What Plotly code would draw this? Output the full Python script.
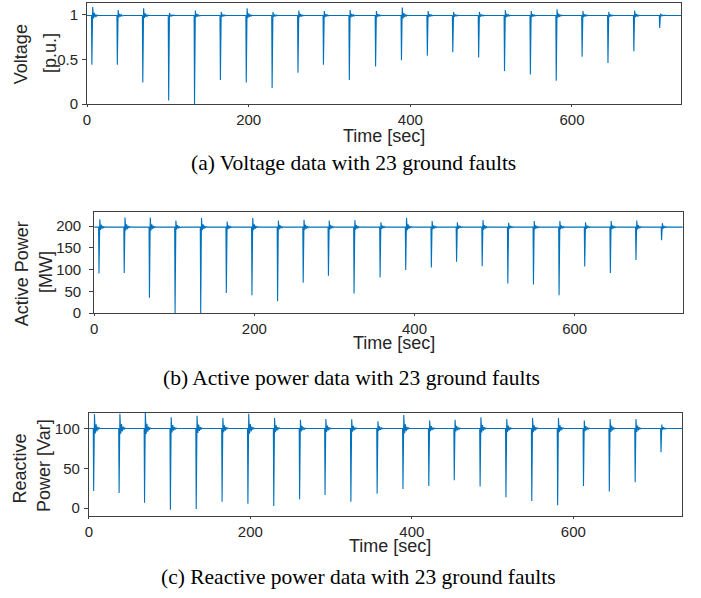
import plotly.graph_objects as go

# ---- data ----
fault_t = [6, 37.5, 69, 101, 133, 165, 197, 229, 261, 292.5, 324.5, 357, 389,
           421, 452.5, 484.5, 516.5, 548.5, 580.5, 612.5, 644.5, 676.5, 708.5]
t_end = 735

v_base = 0.99
v_min = [0.44, 0.44, 0.24, 0.04, 0.0, 0.27, 0.24, 0.18, 0.35, 0.44, 0.27, 0.42,
         0.49, 0.54, 0.58, 0.52, 0.37, 0.33, 0.26, 0.53, 0.46, 0.59, 0.85]
v_peak = [1.085, 1.05, 1.07, 1.02, 1.045, 1.03, 1.07, 1.03, 1.045, 1.04, 1.05, 1.04,
          1.08, 1.04, 1.03, 1.03, 1.05, 1.04, 1.06, 1.04, 1.03, 1.045, 1.01]

p_base = 198
p_min = [91, 92, 35, 0, 0, 46, 41, 27, 70, 86, 45, 82, 99, 105, 118, 108, 68, 66,
         41, 107, 92, 122, 168]
p_peak = [216, 220, 220, 213, 219, 211, 219, 213, 215, 213, 214, 209, 219, 212,
          209, 214, 208, 212, 212, 209, 212, 213, 207]

q_base = 100
q_min = [21.5, 19, 6.6, -2, -1, 8, 5.4, 2.5, 11, 16.5, 8, 18, 24, 27.7, 35, 27,
         13.6, 9, 3.7, 27.7, 20.7, 32.6, 70]
q_peak = [118, 118.6, 120, 114, 116, 113, 118.6, 113, 111, 112, 111.5, 109, 117,
          110, 111, 114, 112, 113, 113, 110, 112, 112, 105]

# damped ringing after each fault (fraction of overshoot)
ring_frac = [-0.35, 0.3, -0.2, 0.12, -0.08, 0.04, 0.0]

x_ticks = [0, 200, 400, 600]
captions = ["(a) Voltage data with 23 ground faults",
            "(b) Active power data with 23 ground faults",
            "(c) Reactive power data with 23 ground faults"]
y_titles = [("Voltage", "[p.u.]"), ("Active Power", "[MW]"), ("Reactive", "Power [Var]")]
x_title = "Time [sec]"


def build(base, mins, peaks):
    xs, ys = [0], [base]
    for t, mn, pk in zip(fault_t, mins, peaks):
        a = pk - base
        xs += [t - 0.5, t, t + 1]
        ys += [base, mn, pk]
        for k, f in enumerate(ring_frac):
            xs.append(t + 2 + k)
            ys.append(base + f * a)
    xs.append(t_end)
    ys.append(base)
    return xs, ys


W, H = 701, 598
# panel boxes in pixels (left, right, top, bottom)
boxes = [(83.5, 681, 3, 105.5), (90.7, 682.7, 215, 317.3), (85.3, 682.3, 418.3, 523.3)]
yranges = [[0, 1.13], [0, 232.5], [-10.3, 119.8]]
yticks = [[0, 0.5, 1], [0, 50, 100, 150, 200], [0, 50, 100]]
ystandoff = [1, 5, 1]
series = [(v_base, v_min, v_peak), (p_base, p_min, p_peak), (q_base, q_min, q_peak)]

fig = go.Figure()
color = "#0072BD"
axcol = "#404040"
txtcol = "#262626"
sans = "Liberation Sans, Arial, sans-serif"
serif = "Liberation Serif, Times New Roman, serif"

for i, (box, s) in enumerate(zip(boxes, series)):
    xs, ys = build(*s)
    sfx = "" if i == 0 else str(i + 1)
    fig.add_trace(go.Scatter(x=xs, y=ys, mode="lines",
                             line=dict(color=color, width=1.1),
                             xaxis="x" + sfx, yaxis="y" + sfx, showlegend=False))
    l, r, t, b = box
    fig.layout["xaxis" + sfx] = dict(
        domain=[l / W, r / W], anchor="y" + sfx, range=[0, t_end],
        tickvals=x_ticks, ticks="outside", ticklen=2, tickcolor=axcol,
        showline=True, linecolor=axcol, linewidth=1, mirror=True,
        showgrid=False, zeroline=False,
        tickfont=dict(family=sans, size=15, color=txtcol))
    fig.layout["yaxis" + sfx] = dict(
        domain=[1 - b / H, 1 - t / H], anchor="x" + sfx, range=yranges[i],
        tickvals=yticks[i], ticks="outside", ticklen=4, tickcolor=axcol,
        ticklabelstandoff=ystandoff[i],
        showline=True, linecolor=axcol, linewidth=1, mirror=True,
        showgrid=False, zeroline=False,
        tickfont=dict(family=sans, size=15, color=txtcol))

# axis titles and captions (pixel positions of text centres)
xt_pos = [(382, 138), (392, 348), (388, 553)]
yt_pos = [((17, 55), (47, 54)), ((18, 277), (43, 276)), ((16, 475), (39.5, 472))]
cap_pos = [(352, 165), (349, 383), (357, 585)]


def ann(x, y, text, font, angle=0):
    fig.add_annotation(x=x / W, y=1 - y / H, xref="paper", yref="paper",
                       text=text, showarrow=False, textangle=angle,
                       xanchor="center", yanchor="middle", font=font)


for i in range(3):
    ann(*xt_pos[i], x_title, dict(family=sans, size=18, color=txtcol))
    for (px, py), line in zip(yt_pos[i], y_titles[i]):
        ann(px, py, line, dict(family=sans, size=18, color=txtcol), angle=-90)
    ann(*cap_pos[i], captions[i], dict(family=serif, size=21.5, color="#000000"))

fig.update_layout(width=W, height=H, margin=dict(l=0, r=0, t=0, b=0),
                  paper_bgcolor="white", plot_bgcolor="white")

fig.write_html("out.html")
